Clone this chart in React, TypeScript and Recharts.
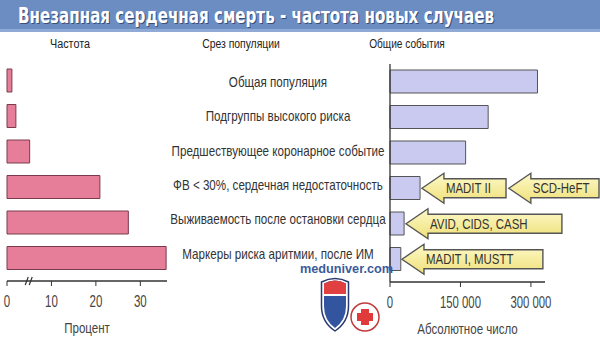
import React from 'react';
import { BarChart, Bar, XAxis, YAxis, ReferenceArea } from 'recharts';

const categories = [
  'Общая популяция',
  'Подгруппы высокого риска',
  'Предшествующее коронарное событие',
  'ФВ < 30%, сердечная недостаточность',
  'Выживаемость после остановки сердца',
  'Маркеры риска аритмии, после ИМ',
];
const incidencePct = [1.1, 2.0, 5.1, 20.9, 27.3, 35.8];
const totalEvents = [314000, 209000, 161000, 64000, 30000, 23000];
const pctTicks = [0, 5, 10, 20, 30];
const axisBreakAt = 5;
const eventTicks = [0, 150000, 300000];
const trialLabels = ['MADIT II', 'SCD-HeFT', 'AVID, CIDS, CASH', 'MADIT I, MUSTT'];
const trialRows = [3, 3, 4, 5];
const trialFrom = [68000, 253000, 34000, 25500];
const trialTo = [247000, 445000, 366000, 325500];

const TITLE = 'Внезапная сердечная смерть - частота новых случаев';

const pctData = categories.map((c, i) => ({ category: c, pct: incidencePct[i] }));
const eventData = categories.map((c, i) => ({ category: c, events: totalEvents[i] }));

const SANS = '"Liberation Sans", Arial, sans-serif';
const TICK_SIZE = 5;
const TICK_MARGIN = 10;

const fmtThousands = (v: number) => {
  const s = String(Math.round(v));
  return s.replace(/\B(?=(\d{3})+(?!\d))/g, ' ');
};

// condensed text: regular font squeezed horizontally
const NText = ({ x, y, anchor = 'middle', size = 14, fill = '#333', sx = 0.83, dy = '0.36em', children }: any) => (
  <text
    transform={`translate(${x},${y}) scale(${sx},1)`}
    x={0}
    y={0}
    dy={dy}
    textAnchor={anchor}
    fontFamily={SANS}
    fontSize={size}
    fill={fill}
  >
    {children}
  </text>
);

const PctTick = (props: any) => {
  const { x, y, payload } = props;
  const axisY = y - TICK_SIZE - TICK_MARGIN;
  if (payload.value === axisBreakAt) {
    return (
      <g stroke="#333" strokeWidth={1.2}>
        <line x1={x - 4} y1={axisY + 4} x2={x - 1} y2={axisY - 4} />
        <line x1={x} y1={axisY + 4} x2={x + 3} y2={axisY - 4} />
      </g>
    );
  }
  return (
    <g>
      <line x1={x} y1={axisY} x2={x} y2={axisY + TICK_SIZE} stroke="#333" strokeWidth={1} />
      <NText x={x} y={y} dy="0.71em" size={16} sx={0.72} fill="#444">{payload.value}</NText>
    </g>
  );
};

const EventTick = (props: any) => {
  const { x, y, payload } = props;
  return (
    <NText x={x} y={y} dy="0.71em" size={16} sx={0.71} fill="#444">{fmtThousands(payload.value)}</NText>
  );
};

const CategoryTick = (props: any) => {
  const { x, y, payload, index } = props;
  const drift = -(index || 0) * 1.1;
  return (
    <NText x={x - 104} y={y + drift} fill="#333">{payload.value}</NText>
  );
};

const axisTitle = (value: string) => (props: any) => {
  const vb = props.viewBox || {};
  return (
    <NText x={vb.x + vb.width / 2} y={vb.y + vb.height - 9} size={15} sx={0.77} fill="#444">{value}</NText>
  );
};

const makeArrow = (label: string, idx: number) => (p: any) => {
  const { x, y, width, height } = p;
  const cy = y + height / 2;
  const bh = 19;
  const hh = 30;
  const hl = 22;
  const gid = `arrowGrad${idx}`;
  const pts = [
    [x, cy],
    [x + hl, cy - hh / 2],
    [x + hl, cy - bh / 2],
    [x + width, cy - bh / 2],
    [x + width, cy + bh / 2],
    [x + hl, cy + bh / 2],
    [x + hl, cy + hh / 2],
  ]
    .map((q) => q.join(','))
    .join(' ');
  return (
    <g>
      <defs>
        <linearGradient id={gid} x1="0" y1="0" x2="0" y2="1">
          <stop offset="0%" stopColor="#fdf9c8" />
          <stop offset="100%" stopColor="#efe07a" />
        </linearGradient>
      </defs>
      <polygon points={pts} fill={`url(#${gid})`} stroke="#555" strokeWidth={1.4} strokeLinejoin="miter" />
      <NText x={x + hl + 2} y={cy} anchor="start" size={14.5} sx={0.79} fill="#333">{label}</NText>
    </g>
  );
};

const Logo = () => (
  <svg width={110} height={84} style={{ position: 'absolute', left: 295, top: 256 }}>
    <defs>
      <clipPath id="shieldInner">
        <path d="M29 27.5 Q40 21.5 51 27.5 L51 50 Q51 64 40 72 Q29 64 29 50 Z" />
      </clipPath>
    </defs>
    <text x={5} y={16.5} fontFamily={SANS} fontWeight="bold" fontSize={13} fill="#3b5b9c" textLength={93} lengthAdjust="spacingAndGlyphs">
      meduniver.com
    </text>
    <path d="M26.5 26 Q40 19 53.5 26 L53.5 50 Q53.5 66 40 75 Q26.5 66 26.5 50 Z" fill="#fff" stroke="#2a3a70" strokeWidth={1.5} />
    <g clipPath="url(#shieldInner)">
      <rect x={20} y={15} width={40} height={65} fill="#3355a0" />
      <rect x={20} y={15} width={40} height={23} fill="#e0403f" />
      <rect x={20} y={38} width={40} height={2} fill="#fff" />
    </g>
    <circle cx={70} cy={61} r={14} fill="#fff" stroke="#c23a3a" strokeWidth={1.5} />
    <path d="M66 53 h8 v4 h4 v8 h-4 v4 h-8 v-4 h-4 v-8 h4 Z" fill="#e03a3a" />
  </svg>
);

const TITLE_SX = 0.7;

export default function App() {
  return (
    <div style={{ position: 'fixed', left: 0, top: 0, width: 600, height: 342, background: '#fff', overflow: 'hidden' }}>
      <svg width={600} height={34} style={{ position: 'absolute', left: 0, top: 0 }}>
        <rect x={0} y={0} width={600} height={32} fill="#6c8dc2" />
        <rect x={0} y={29} width={600} height={3} fill="#8eaad5" />
        <text
          transform={`translate(19,24) scale(${TITLE_SX},1)`}
          fontFamily='"DejaVu Sans", sans-serif'
          fontWeight="bold"
          fontSize={22}
          fill="#3a4f78"
          textLength={476 / TITLE_SX}
          lengthAdjust="spacingAndGlyphs"
        >
          {TITLE}
        </text>
        <text
          transform={`translate(18,23) scale(${TITLE_SX},1)`}
          fontFamily='"DejaVu Sans", sans-serif'
          fontWeight="bold"
          fontSize={22}
          fill="#fff"
          textLength={476 / TITLE_SX}
          lengthAdjust="spacingAndGlyphs"
        >
          {TITLE}
        </text>
      </svg>

      <svg width={600} height={60} style={{ position: 'absolute', left: 0, top: 30 }}>
        <NText x={70} y={13} size={13.5} sx={0.8} fill="#222">Частота</NText>
        <NText x={241} y={13} size={13.5} sx={0.77} fill="#222">Срез популяции</NText>
        <NText x={407} y={13} size={13.5} sx={0.75} fill="#222">Общие события</NText>
      </svg>

      <div style={{ position: 'absolute', left: 0, top: 0 }}>
        <BarChart
          width={180}
          height={342}
          data={pctData}
          layout="vertical"
          margin={{ top: 63, right: 13, bottom: 5, left: 7 }}
          barSize={23}
        >
          <XAxis
            type="number"
            dataKey="pct"
            domain={[0, 36]}
            ticks={pctTicks}
            interval={0}
            tickLine={false}
            tickSize={TICK_SIZE}
            tickMargin={TICK_MARGIN}
            tick={<PctTick />}
            axisLine={{ stroke: '#333', strokeWidth: 1.3 }}
            height={56}
            label={{ content: axisTitle('Процент') }}
          />
          <YAxis
            type="category"
            dataKey="category"
            width={0}
            tick={false}
            tickLine={false}
            axisLine={{ stroke: '#333', strokeWidth: 1.3 }}
            padding={{ top: 0, bottom: 5 }}
          />
          <Bar dataKey="pct" fill="#e67e99" stroke="#7a3a4c" strokeWidth={1} isAnimationActive={false} />
        </BarChart>
      </div>

      <div style={{ position: 'absolute', left: 160, top: 0 }}>
        <BarChart
          width={440}
          height={342}
          data={eventData}
          layout="vertical"
          margin={{ top: 64, right: 55, bottom: 4, left: 0 }}
          barSize={23}
        >
          <XAxis
            type="number"
            dataKey="events"
            domain={[0, 330000]}
            ticks={eventTicks}
            interval={0}
            tickSize={TICK_SIZE}
            tickMargin={TICK_MARGIN}
            tickLine={{ stroke: '#333' }}
            tick={<EventTick />}
            axisLine={{ stroke: '#333', strokeWidth: 1.3 }}
            height={56}
            label={{ content: axisTitle('Абсолютное число') }}
          />
          <YAxis
            type="category"
            dataKey="category"
            width={230}
            tickLine={false}
            tick={<CategoryTick />}
            interval={0}
            axisLine={{ stroke: '#333', strokeWidth: 1.3 }}
            padding={{ top: 0, bottom: 5 }}
          />
          <Bar dataKey="events" fill="#cacaf1" stroke="#555" strokeWidth={1} isAnimationActive={false} />
          {trialLabels.map((lab, i) => (
            <ReferenceArea
              key={lab}
              x1={trialFrom[i]}
              x2={trialTo[i]}
              y1={categories[trialRows[i]]}
              y2={categories[trialRows[i]]}
              ifOverflow="visible"
              shape={makeArrow(lab, i)}
            />
          ))}
        </BarChart>
      </div>

      <Logo />
    </div>
  );
}
